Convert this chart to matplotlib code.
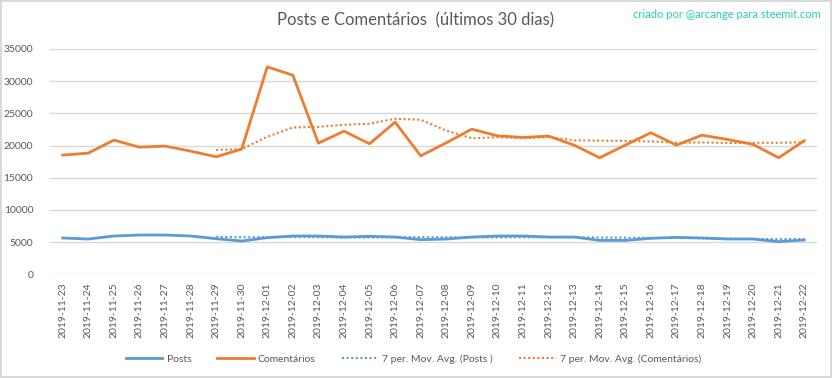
import matplotlib
matplotlib.use('Agg')
import matplotlib.pyplot as plt
import pandas as pd

# Dados (últimos 30 dias)
datas = pd.date_range('2019-11-23', '2019-12-22').strftime('%Y-%m-%d').tolist()

posts = [5640, 5480, 5950, 6100, 6100, 5950, 5530, 5170, 5690, 5950,
         5950, 5790, 5900, 5790, 5380, 5480, 5790, 5950, 5950, 5790,
         5790, 5270, 5270, 5590, 5740, 5640, 5480, 5480, 5070, 5330]

comentarios = [18510, 18820, 20840, 19750, 19910, 19130, 18250, 19440, 32210, 30920,
               20370, 22230, 20270, 23630, 18400, 20420, 22540, 21510, 21250, 21460,
               20060, 18100, 20060, 21980, 20060, 21610, 20940, 20170, 18100, 20740]

# Média móvel de 7 períodos (linha de tendência do Excel)
mm_posts = pd.Series(posts).rolling(7).mean()
mm_coment = pd.Series(comentarios).rolling(7).mean()

azul = '#5B9BD5'
laranja = '#ED7D31'
cinza = '#595959'
fonte = 'Lato'

fig = plt.figure(figsize=(8.32, 3.78), dpi=100)
fig.patch.set_edgecolor('#D9D9D9')
fig.patch.set_linewidth(1.5)
ax = fig.add_axes([0.060, 0.2743, 0.922, 0.5963])

x = range(len(datas))
ax.plot(x, posts, color=azul, lw=2, label='Posts', solid_joinstyle='round')
ax.plot(x, comentarios, color=laranja, lw=2, label='Comentários', solid_joinstyle='round')
ax.plot(x, mm_posts, color=azul, lw=1.5, ls=(0, (1, 1.2)), label='7 per. Mov. Avg. (Posts )')
ax.plot(x, mm_coment, color=laranja, lw=1.5, ls=(0, (1, 1.2)), label='7 per. Mov. Avg. (Comentários)')

ax.set_xlim(-0.5, len(datas) - 0.5)
ax.set_ylim(0, 35000)
ax.set_yticks(range(0, 35001, 5000))
ax.set_xticks(list(x))
ax.set_xticklabels(datas, rotation=90, fontsize=7.5, color=cinza, family=fonte)
for lbl in ax.get_yticklabels():
    lbl.set_fontsize(7.5)
    lbl.set_color(cinza)
    lbl.set_family(fonte)
ax.tick_params(length=0, pad=6)
ax.tick_params(axis='y', pad=12)
ax.grid(axis='y', color='#D9D9D9', lw=1)
ax.set_axisbelow(True)
for s in ax.spines.values():
    s.set_visible(False)

fig.text(0.5, 0.947, 'Posts e Comentários  (últimos 30 dias)', ha='center', va='center',
         fontsize=12, color=cinza, family=fonte)
fig.text(0.986, 0.962, 'criado por @arcange para steemit.com', ha='right', va='center',
         fontsize=8, color='#26CFA8', family=fonte)

fig.legend(loc='center', bbox_to_anchor=(0.497, 0.05), ncol=4, frameon=False,
           prop={'family': fonte, 'size': 7.5}, labelcolor=cinza,
           handlelength=3.5, columnspacing=2.5, handletextpad=0.4)

fig.savefig('out.png', dpi=100, edgecolor=fig.get_edgecolor())
